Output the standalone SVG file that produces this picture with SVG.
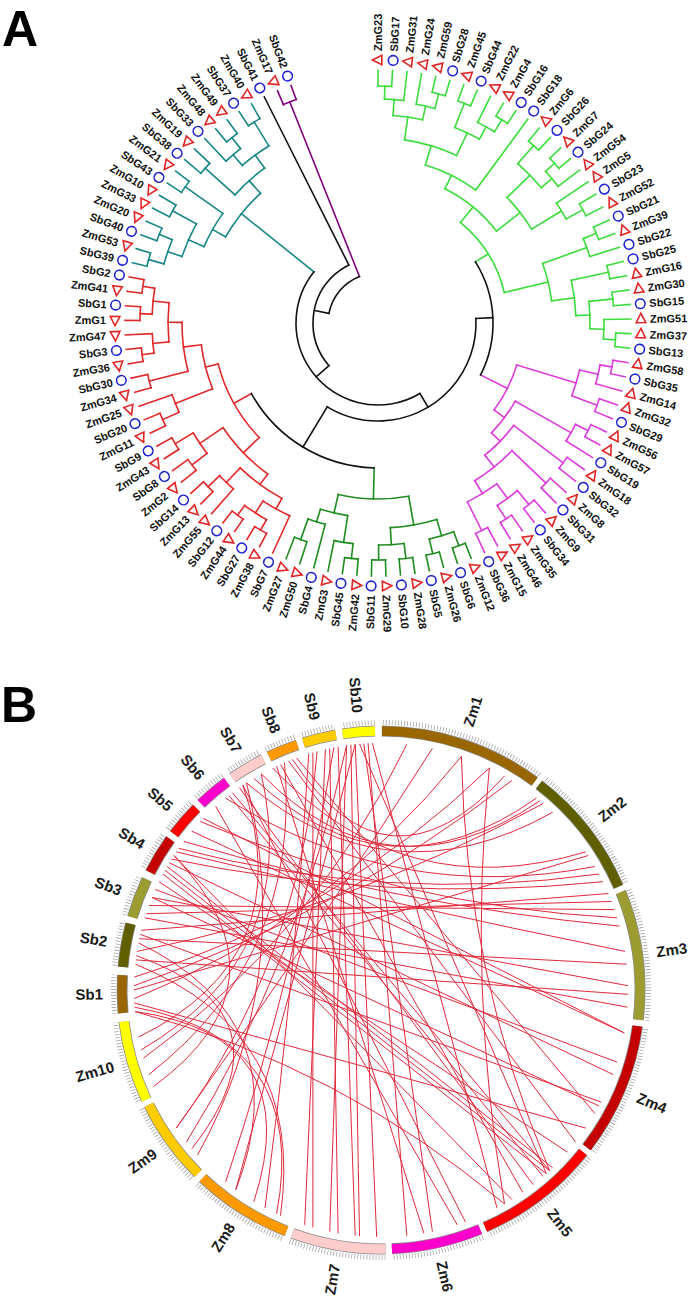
<svg xmlns="http://www.w3.org/2000/svg" xmlns:xlink="http://www.w3.org/1999/xlink" width="694" height="1298" viewBox="0 0 694 1298">
<style>
.br path,.br circle{fill:none;stroke-width:1.6;stroke-linecap:square}
.g1{stroke:#3cdc3c}.m1{stroke:#dc3cdc}.d1{stroke:#1f8c1f}.r1{stroke:#e02828}.t1{stroke:#178585}.p1{stroke:#800080}.k1{stroke:#111}
.lv text{font-family:"Liberation Sans",Arial,sans-serif;font-weight:bold;font-size:11px;fill:#111}
.lv .l{text-anchor:end}
.cl{font-family:"Liberation Sans",Arial,sans-serif;font-weight:bold;font-size:15px;fill:#1a1a1a}
.lk path{fill:none;stroke:#e2293c;stroke-width:1}
.big{font-family:"Liberation Sans",Arial,sans-serif;font-weight:bold;font-size:50px;fill:#000}
</style>
<defs>
<circle id="s" cx="263" r="4.8" fill="none" stroke="#1e22d0" stroke-width="1.6"/>
<polygon id="z" points="263,-5.6 258.2,3.8 267.8,3.8" fill="none" stroke="#e32424" stroke-width="1.6"/>
<circle id="bSb1" r="259" fill="none" pathLength="360" transform="rotate(174.9)" stroke-dasharray="8.4 999"/>
<circle id="bSb2" r="259" fill="none" pathLength="360" transform="rotate(185.1)" stroke-dasharray="9.7 999"/>
<circle id="bSb3" r="259" fill="none" pathLength="360" transform="rotate(196.3)" stroke-dasharray="9 999"/>
<circle id="bSb4" r="259" fill="none" pathLength="360" transform="rotate(207)" stroke-dasharray="8.6 999"/>
<circle id="bSb5" r="259" fill="none" pathLength="360" transform="rotate(217)" stroke-dasharray="7.6 999"/>
<circle id="bSb6" r="259" fill="none" pathLength="360" transform="rotate(226)" stroke-dasharray="7.5 999"/>
<circle id="bSb7" r="259" fill="none" pathLength="360" transform="rotate(235)" stroke-dasharray="8 999"/>
<circle id="bSb8" r="259" fill="none" pathLength="360" transform="rotate(244.4)" stroke-dasharray="6.8 999"/>
<circle id="bSb9" r="259" fill="none" pathLength="360" transform="rotate(252.6)" stroke-dasharray="7.4 999"/>
<circle id="bSb10" r="259" fill="none" pathLength="360" transform="rotate(261.5)" stroke-dasharray="7.2 999"/>
<circle id="bZm1" r="259" fill="none" pathLength="360" transform="rotate(-89.8)" stroke-dasharray="36.2 999"/>
<circle id="bZm2" r="259" fill="none" pathLength="360" transform="rotate(-52.4)" stroke-dasharray="28.9 999"/>
<circle id="bZm3" r="259" fill="none" pathLength="360" transform="rotate(-22.2)" stroke-dasharray="28.8 999"/>
<circle id="bZm4" r="259" fill="none" pathLength="360" transform="rotate(8)" stroke-dasharray="29.4 999"/>
<circle id="bZm5" r="259" fill="none" pathLength="360" transform="rotate(38.7)" stroke-dasharray="27.6 999"/>
<circle id="bZm6" r="259" fill="none" pathLength="360" transform="rotate(67.5)" stroke-dasharray="20.1 999"/>
<circle id="bZm7" r="259" fill="none" pathLength="360" transform="rotate(89)" stroke-dasharray="21 999"/>
<circle id="bZm8" r="259" fill="none" pathLength="360" transform="rotate(111.4)" stroke-dasharray="22.1 999"/>
<circle id="bZm9" r="259" fill="none" pathLength="360" transform="rotate(134.9)" stroke-dasharray="18.8 999"/>
<circle id="bZm10" r="259" fill="none" pathLength="360" transform="rotate(155)" stroke-dasharray="18 999"/>
<mask id="tkm" maskUnits="userSpaceOnUse" x="-320" y="-320" width="640" height="640">
<g stroke="#fff" stroke-width="30">
<use href="#bSb1"/><use href="#bSb2"/><use href="#bSb3"/><use href="#bSb4"/><use href="#bSb5"/><use href="#bSb6"/><use href="#bSb7"/><use href="#bSb8"/><use href="#bSb9"/><use href="#bSb10"/>
<use href="#bZm1"/><use href="#bZm2"/><use href="#bZm3"/><use href="#bZm4"/><use href="#bZm5"/><use href="#bZm6"/><use href="#bZm7"/><use href="#bZm8"/><use href="#bZm9"/><use href="#bZm10"/>
</g>
</mask>
</defs>
<rect width="694" height="1298" fill="#fff"/>
<text class="big" x="2" y="46">A</text>
<text class="big" x="1" y="722">B</text>

<g id="tree-branches" class="br" transform="translate(378,323)">
<g id="clade-lightgreen" class="g1">
<path transform="rotate(-90)" d="M237 0H253"/><path transform="rotate(-86.7)" d="M237 0H253"/><path transform="rotate(-83.4)" d="M224 0H253"/><path transform="rotate(-80.1)" d="M222 0H253"/><path transform="rotate(-76.8)" d="M237 0H253"/><path transform="rotate(-73.5)" d="M237 0H253"/><path transform="rotate(-70.2)" d="M236 0H253"/><path transform="rotate(-66.9)" d="M236 0H253"/><path transform="rotate(-63.6)" d="M224 0H253"/><path transform="rotate(-60.3)" d="M238 0H253"/><path transform="rotate(-57)" d="M238 0H253"/><path transform="rotate(-53.7)" d="M165 0H253"/><path transform="rotate(-50.4)" d="M236 0H253"/><path transform="rotate(-47.1)" d="M236 0H253"/><path transform="rotate(-43.8)" d="M238 0H253"/><path transform="rotate(-40.5)" d="M238 0H253"/><path transform="rotate(-37.2)" d="M226 0H253"/><path transform="rotate(-33.9)" d="M215 0H253"/><path transform="rotate(-30.6)" d="M234 0H253"/><path transform="rotate(-27.3)" d="M234 0H253"/><path transform="rotate(-24)" d="M236 0H253"/><path transform="rotate(-20.7)" d="M236 0H253"/><path transform="rotate(-17.4)" d="M222 0H253"/><path transform="rotate(-14.1)" d="M236 0H253"/><path transform="rotate(-10.8)" d="M236 0H253"/><path transform="rotate(-7.5)" d="M236 0H253"/><path transform="rotate(-4.2)" d="M236 0H253"/><path transform="rotate(-0.9)" d="M226 0H253"/><path transform="rotate(2.4)" d="M238 0H253"/><path transform="rotate(5.7)" d="M238 0H253"/>
<path transform="rotate(-88.35)" d="M224 0H237"/><path transform="rotate(-85.875)" d="M208 0H224"/><path transform="rotate(-75.15)" d="M222 0H237"/><path transform="rotate(-77.625)" d="M208 0H222"/><path transform="rotate(-81.75)" d="M185 0H208"/><path transform="rotate(-68.55)" d="M210 0H236"/><path transform="rotate(-58.65)" d="M224 0H238"/><path transform="rotate(-61.125)" d="M210 0H224"/><path transform="rotate(-64.84)" d="M185 0H210"/><path transform="rotate(-73.29)" d="M165 0H185"/><path transform="rotate(-63.5)" d="M150 0H165"/><path transform="rotate(-48.75)" d="M212 0H236"/><path transform="rotate(-42.15)" d="M226 0H238"/><path transform="rotate(-39.675)" d="M212 0H226"/><path transform="rotate(-44.21)" d="M180 0H212"/><path transform="rotate(-28.95)" d="M215 0H234"/><path transform="rotate(-31.425)" d="M180 0H215"/><path transform="rotate(-37.82)" d="M150 0H180"/><path transform="rotate(-50.66)" d="M130 0H150"/><path transform="rotate(-22.35)" d="M222 0H236"/><path transform="rotate(-19.875)" d="M175 0H222"/><path transform="rotate(-12.45)" d="M198 0H236"/><path transform="rotate(-5.85)" d="M212 0H236"/><path transform="rotate(4.05)" d="M226 0H238"/><path transform="rotate(1.575)" d="M212 0H226"/><path transform="rotate(-2.14)" d="M198 0H212"/><path transform="rotate(-7.29)" d="M175 0H198"/><path transform="rotate(-13.58)" d="M130 0H175"/><path transform="rotate(-32.12)" d="M115 0H130"/>
<circle r="237" pathLength="360" transform="rotate(-90)" stroke-dasharray="3.3 999"/><circle r="224" pathLength="360" transform="rotate(-88.35)" stroke-dasharray="4.95 999"/><circle r="237" pathLength="360" transform="rotate(-76.8)" stroke-dasharray="3.3 999"/><circle r="222" pathLength="360" transform="rotate(-80.1)" stroke-dasharray="4.95 999"/><circle r="208" pathLength="360" transform="rotate(-85.875)" stroke-dasharray="8.25 999"/><circle r="236" pathLength="360" transform="rotate(-70.2)" stroke-dasharray="3.3 999"/><circle r="238" pathLength="360" transform="rotate(-60.3)" stroke-dasharray="3.3 999"/><circle r="224" pathLength="360" transform="rotate(-63.6)" stroke-dasharray="4.95 999"/><circle r="210" pathLength="360" transform="rotate(-68.55)" stroke-dasharray="7.425 999"/><circle r="185" pathLength="360" transform="rotate(-81.75)" stroke-dasharray="16.91 999"/><circle r="165" pathLength="360" transform="rotate(-73.29)" stroke-dasharray="19.59 999"/><circle r="236" pathLength="360" transform="rotate(-50.4)" stroke-dasharray="3.3 999"/><circle r="238" pathLength="360" transform="rotate(-43.8)" stroke-dasharray="3.3 999"/><circle r="226" pathLength="360" transform="rotate(-42.15)" stroke-dasharray="4.95 999"/><circle r="212" pathLength="360" transform="rotate(-48.75)" stroke-dasharray="9.075 999"/><circle r="234" pathLength="360" transform="rotate(-30.6)" stroke-dasharray="3.3 999"/><circle r="215" pathLength="360" transform="rotate(-33.9)" stroke-dasharray="4.95 999"/><circle r="180" pathLength="360" transform="rotate(-44.21)" stroke-dasharray="12.785 999"/><circle r="150" pathLength="360" transform="rotate(-63.5)" stroke-dasharray="25.68 999"/><circle r="236" pathLength="360" transform="rotate(-24)" stroke-dasharray="3.3 999"/><circle r="222" pathLength="360" transform="rotate(-22.35)" stroke-dasharray="4.95 999"/><circle r="236" pathLength="360" transform="rotate(-14.1)" stroke-dasharray="3.3 999"/><circle r="236" pathLength="360" transform="rotate(-7.5)" stroke-dasharray="3.3 999"/><circle r="238" pathLength="360" transform="rotate(2.4)" stroke-dasharray="3.3 999"/><circle r="226" pathLength="360" transform="rotate(-0.9)" stroke-dasharray="4.95 999"/><circle r="212" pathLength="360" transform="rotate(-5.85)" stroke-dasharray="7.425 999"/><circle r="198" pathLength="360" transform="rotate(-12.45)" stroke-dasharray="10.31 999"/><circle r="175" pathLength="360" transform="rotate(-19.875)" stroke-dasharray="12.585 999"/><circle r="130" pathLength="360" transform="rotate(-50.66)" stroke-dasharray="37.08 999"/>
</g>
<g id="clade-magenta" class="m1">
<path transform="rotate(9)" d="M238 0H253"/><path transform="rotate(12.3)" d="M238 0H253"/><path transform="rotate(15.6)" d="M226 0H253"/><path transform="rotate(18.9)" d="M234 0H253"/><path transform="rotate(22.2)" d="M234 0H253"/><path transform="rotate(25.5)" d="M236 0H253"/><path transform="rotate(28.8)" d="M236 0H253"/><path transform="rotate(32.1)" d="M222 0H253"/><path transform="rotate(35.4)" d="M232 0H253"/><path transform="rotate(38.7)" d="M232 0H253"/><path transform="rotate(42)" d="M232 0H253"/><path transform="rotate(45.3)" d="M232 0H253"/><path transform="rotate(48.6)" d="M236 0H253"/><path transform="rotate(51.9)" d="M236 0H253"/><path transform="rotate(55.2)" d="M234 0H253"/><path transform="rotate(58.5)" d="M234 0H253"/><path transform="rotate(61.8)" d="M232 0H253"/><path transform="rotate(65.1)" d="M232 0H253"/>
<path transform="rotate(10.65)" d="M226 0H238"/><path transform="rotate(13.125)" d="M207 0H226"/><path transform="rotate(20.55)" d="M207 0H234"/><path transform="rotate(16.84)" d="M145 0H207"/><path transform="rotate(27.15)" d="M222 0H236"/><path transform="rotate(29.625)" d="M158 0H222"/><path transform="rotate(37.05)" d="M170 0H232"/><path transform="rotate(43.65)" d="M185 0H232"/><path transform="rotate(50.25)" d="M218 0H236"/><path transform="rotate(56.85)" d="M218 0H234"/><path transform="rotate(53.55)" d="M200 0H218"/><path transform="rotate(63.45)" d="M200 0H232"/><path transform="rotate(58.5)" d="M185 0H200"/><path transform="rotate(51.075)" d="M170 0H185"/><path transform="rotate(44.06)" d="M158 0H170"/><path transform="rotate(36.84)" d="M145 0H158"/><path transform="rotate(26.84)" d="M115 0H145"/>
<circle r="238" pathLength="360" transform="rotate(9)" stroke-dasharray="3.3 999"/><circle r="226" pathLength="360" transform="rotate(10.65)" stroke-dasharray="4.95 999"/><circle r="234" pathLength="360" transform="rotate(18.9)" stroke-dasharray="3.3 999"/><circle r="207" pathLength="360" transform="rotate(13.125)" stroke-dasharray="7.425 999"/><circle r="236" pathLength="360" transform="rotate(25.5)" stroke-dasharray="3.3 999"/><circle r="222" pathLength="360" transform="rotate(27.15)" stroke-dasharray="4.95 999"/><circle r="232" pathLength="360" transform="rotate(35.4)" stroke-dasharray="3.3 999"/><circle r="232" pathLength="360" transform="rotate(42)" stroke-dasharray="3.3 999"/><circle r="236" pathLength="360" transform="rotate(48.6)" stroke-dasharray="3.3 999"/><circle r="234" pathLength="360" transform="rotate(55.2)" stroke-dasharray="3.3 999"/><circle r="218" pathLength="360" transform="rotate(50.25)" stroke-dasharray="6.6 999"/><circle r="232" pathLength="360" transform="rotate(61.8)" stroke-dasharray="3.3 999"/><circle r="200" pathLength="360" transform="rotate(53.55)" stroke-dasharray="9.9 999"/><circle r="185" pathLength="360" transform="rotate(43.65)" stroke-dasharray="14.85 999"/><circle r="170" pathLength="360" transform="rotate(37.05)" stroke-dasharray="14.025 999"/><circle r="158" pathLength="360" transform="rotate(29.625)" stroke-dasharray="14.435 999"/><circle r="145" pathLength="360" transform="rotate(16.84)" stroke-dasharray="20 999"/>
</g>
<g id="clade-darkgreen" class="d1">
<path transform="rotate(68.4)" d="M237 0H253"/><path transform="rotate(71.7)" d="M237 0H253"/><path transform="rotate(75)" d="M237 0H253"/><path transform="rotate(78.3)" d="M237 0H253"/><path transform="rotate(81.6)" d="M237 0H253"/><path transform="rotate(84.9)" d="M237 0H253"/><path transform="rotate(88.2)" d="M237 0H253"/><path transform="rotate(91.5)" d="M237 0H253"/><path transform="rotate(94.8)" d="M237 0H253"/><path transform="rotate(98.1)" d="M237 0H253"/><path transform="rotate(101.4)" d="M222 0H253"/><path transform="rotate(104.7)" d="M208 0H253"/><path transform="rotate(108)" d="M230 0H253"/><path transform="rotate(111.3)" d="M230 0H253"/>
<path transform="rotate(70.05)" d="M222 0H237"/><path transform="rotate(76.65)" d="M222 0H237"/><path transform="rotate(73.35)" d="M205 0H222"/><path transform="rotate(83.25)" d="M222 0H237"/><path transform="rotate(89.85)" d="M222 0H237"/><path transform="rotate(86.55)" d="M205 0H222"/><path transform="rotate(79.95)" d="M176 0H205"/><path transform="rotate(96.45)" d="M222 0H237"/><path transform="rotate(98.925)" d="M195 0H222"/><path transform="rotate(109.65)" d="M208 0H230"/><path transform="rotate(107.175)" d="M195 0H208"/><path transform="rotate(103.05)" d="M176 0H195"/><path transform="rotate(91.5)" d="M145 0H176"/>
<circle r="237" pathLength="360" transform="rotate(68.4)" stroke-dasharray="3.3 999"/><circle r="237" pathLength="360" transform="rotate(75)" stroke-dasharray="3.3 999"/><circle r="222" pathLength="360" transform="rotate(70.05)" stroke-dasharray="6.6 999"/><circle r="237" pathLength="360" transform="rotate(81.6)" stroke-dasharray="3.3 999"/><circle r="237" pathLength="360" transform="rotate(88.2)" stroke-dasharray="3.3 999"/><circle r="222" pathLength="360" transform="rotate(83.25)" stroke-dasharray="6.6 999"/><circle r="205" pathLength="360" transform="rotate(73.35)" stroke-dasharray="13.2 999"/><circle r="237" pathLength="360" transform="rotate(94.8)" stroke-dasharray="3.3 999"/><circle r="222" pathLength="360" transform="rotate(96.45)" stroke-dasharray="4.95 999"/><circle r="230" pathLength="360" transform="rotate(108)" stroke-dasharray="3.3 999"/><circle r="208" pathLength="360" transform="rotate(104.7)" stroke-dasharray="4.95 999"/><circle r="195" pathLength="360" transform="rotate(98.925)" stroke-dasharray="8.25 999"/><circle r="176" pathLength="360" transform="rotate(79.95)" stroke-dasharray="23.1 999"/>
</g>
<g id="clade-red" class="r1">
<path transform="rotate(114.6)" d="M212 0H253"/><path transform="rotate(117.9)" d="M238 0H253"/><path transform="rotate(121.2)" d="M238 0H253"/><path transform="rotate(124.5)" d="M238 0H253"/><path transform="rotate(127.8)" d="M238 0H253"/><path transform="rotate(131.1)" d="M220 0H253"/><path transform="rotate(134.4)" d="M236 0H253"/><path transform="rotate(137.7)" d="M236 0H253"/><path transform="rotate(141)" d="M234 0H253"/><path transform="rotate(144.3)" d="M234 0H253"/><path transform="rotate(147.6)" d="M236 0H253"/><path transform="rotate(150.9)" d="M236 0H253"/><path transform="rotate(154.2)" d="M236 0H253"/><path transform="rotate(157.5)" d="M236 0H253"/><path transform="rotate(160.8)" d="M218 0H253"/><path transform="rotate(164.1)" d="M236 0H253"/><path transform="rotate(167.4)" d="M236 0H253"/><path transform="rotate(170.7)" d="M238 0H253"/><path transform="rotate(174)" d="M238 0H253"/><path transform="rotate(177.3)" d="M226 0H253"/><path transform="rotate(180.6)" d="M238 0H253"/><path transform="rotate(183.9)" d="M238 0H253"/><path transform="rotate(187.2)" d="M238 0H253"/><path transform="rotate(190.5)" d="M238 0H253"/>
<path transform="rotate(119.55)" d="M226 0H238"/><path transform="rotate(126.15)" d="M226 0H238"/><path transform="rotate(122.85)" d="M212 0H226"/><path transform="rotate(118.725)" d="M200 0H212"/><path transform="rotate(136.05)" d="M220 0H236"/><path transform="rotate(133.575)" d="M200 0H220"/><path transform="rotate(126.15)" d="M187 0H200"/><path transform="rotate(142.65)" d="M215 0H234"/><path transform="rotate(149.25)" d="M215 0H236"/><path transform="rotate(145.95)" d="M187 0H215"/><path transform="rotate(136.05)" d="M165 0H187"/><path transform="rotate(155.85)" d="M218 0H236"/><path transform="rotate(158.325)" d="M178 0H218"/><path transform="rotate(165.75)" d="M196 0H236"/><path transform="rotate(172.35)" d="M226 0H238"/><path transform="rotate(174.825)" d="M210 0H226"/><path transform="rotate(182.25)" d="M226 0H238"/><path transform="rotate(188.85)" d="M226 0H238"/><path transform="rotate(185.55)" d="M210 0H226"/><path transform="rotate(180.19)" d="M196 0H210"/><path transform="rotate(172.97)" d="M178 0H196"/><path transform="rotate(165.65)" d="M165 0H178"/><path transform="rotate(150.85)" d="M145 0H165"/>
<circle r="238" pathLength="360" transform="rotate(117.9)" stroke-dasharray="3.3 999"/><circle r="238" pathLength="360" transform="rotate(124.5)" stroke-dasharray="3.3 999"/><circle r="226" pathLength="360" transform="rotate(119.55)" stroke-dasharray="6.6 999"/><circle r="212" pathLength="360" transform="rotate(114.6)" stroke-dasharray="8.25 999"/><circle r="236" pathLength="360" transform="rotate(134.4)" stroke-dasharray="3.3 999"/><circle r="220" pathLength="360" transform="rotate(131.1)" stroke-dasharray="4.95 999"/><circle r="200" pathLength="360" transform="rotate(118.725)" stroke-dasharray="14.85 999"/><circle r="234" pathLength="360" transform="rotate(141)" stroke-dasharray="3.3 999"/><circle r="236" pathLength="360" transform="rotate(147.6)" stroke-dasharray="3.3 999"/><circle r="215" pathLength="360" transform="rotate(142.65)" stroke-dasharray="6.6 999"/><circle r="187" pathLength="360" transform="rotate(126.15)" stroke-dasharray="19.8 999"/><circle r="236" pathLength="360" transform="rotate(154.2)" stroke-dasharray="3.3 999"/><circle r="218" pathLength="360" transform="rotate(155.85)" stroke-dasharray="4.95 999"/><circle r="236" pathLength="360" transform="rotate(164.1)" stroke-dasharray="3.3 999"/><circle r="238" pathLength="360" transform="rotate(170.7)" stroke-dasharray="3.3 999"/><circle r="226" pathLength="360" transform="rotate(172.35)" stroke-dasharray="4.95 999"/><circle r="238" pathLength="360" transform="rotate(180.6)" stroke-dasharray="3.3 999"/><circle r="238" pathLength="360" transform="rotate(187.2)" stroke-dasharray="3.3 999"/><circle r="226" pathLength="360" transform="rotate(182.25)" stroke-dasharray="6.6 999"/><circle r="210" pathLength="360" transform="rotate(174.825)" stroke-dasharray="10.725 999"/><circle r="196" pathLength="360" transform="rotate(165.75)" stroke-dasharray="14.44 999"/><circle r="178" pathLength="360" transform="rotate(158.325)" stroke-dasharray="14.645 999"/><circle r="165" pathLength="360" transform="rotate(136.05)" stroke-dasharray="29.6 999"/>
</g>
<g id="clade-teal" class="t1">
<path transform="rotate(193.8)" d="M238 0H253"/><path transform="rotate(197.1)" d="M238 0H253"/><path transform="rotate(200.4)" d="M236 0H253"/><path transform="rotate(203.7)" d="M236 0H253"/><path transform="rotate(207)" d="M234 0H253"/><path transform="rotate(210.3)" d="M234 0H253"/><path transform="rotate(213.6)" d="M236 0H253"/><path transform="rotate(216.9)" d="M236 0H253"/><path transform="rotate(220.2)" d="M232 0H253"/><path transform="rotate(223.5)" d="M232 0H253"/><path transform="rotate(226.8)" d="M222 0H253"/><path transform="rotate(230.1)" d="M236 0H253"/><path transform="rotate(233.4)" d="M236 0H253"/><path transform="rotate(236.7)" d="M236 0H253"/><path transform="rotate(240)" d="M236 0H253"/>
<path transform="rotate(195.45)" d="M222 0H238"/><path transform="rotate(202.05)" d="M222 0H236"/><path transform="rotate(198.75)" d="M207 0H222"/><path transform="rotate(208.65)" d="M207 0H234"/><path transform="rotate(203.7)" d="M190 0H207"/><path transform="rotate(215.25)" d="M190 0H236"/><path transform="rotate(209.475)" d="M175 0H190"/><path transform="rotate(221.85)" d="M192 0H232"/><path transform="rotate(231.75)" d="M222 0H236"/><path transform="rotate(229.275)" d="M208 0H222"/><path transform="rotate(238.35)" d="M208 0H236"/><path transform="rotate(233.81)" d="M192 0H208"/><path transform="rotate(227.83)" d="M175 0H192"/><path transform="rotate(218.65)" d="M82 0H175"/>
<circle r="238" pathLength="360" transform="rotate(193.8)" stroke-dasharray="3.3 999"/><circle r="236" pathLength="360" transform="rotate(200.4)" stroke-dasharray="3.3 999"/><circle r="222" pathLength="360" transform="rotate(195.45)" stroke-dasharray="6.6 999"/><circle r="234" pathLength="360" transform="rotate(207)" stroke-dasharray="3.3 999"/><circle r="207" pathLength="360" transform="rotate(198.75)" stroke-dasharray="9.9 999"/><circle r="236" pathLength="360" transform="rotate(213.6)" stroke-dasharray="3.3 999"/><circle r="190" pathLength="360" transform="rotate(203.7)" stroke-dasharray="11.55 999"/><circle r="232" pathLength="360" transform="rotate(220.2)" stroke-dasharray="3.3 999"/><circle r="236" pathLength="360" transform="rotate(230.1)" stroke-dasharray="3.3 999"/><circle r="222" pathLength="360" transform="rotate(226.8)" stroke-dasharray="4.95 999"/><circle r="236" pathLength="360" transform="rotate(236.7)" stroke-dasharray="3.3 999"/><circle r="208" pathLength="360" transform="rotate(229.275)" stroke-dasharray="9.075 999"/><circle r="192" pathLength="360" transform="rotate(221.85)" stroke-dasharray="11.96 999"/><circle r="175" pathLength="360" transform="rotate(209.475)" stroke-dasharray="18.355 999"/>
</g>
<g id="clade-purple" class="p1">
<path transform="rotate(246.6)" d="M238 0H253"/><path transform="rotate(249.9)" d="M238 0H253"/><path transform="rotate(248.25)" d="M50 0H238"/>
<circle r="238" pathLength="360" transform="rotate(246.6)" stroke-dasharray="3.3 999"/>
</g>
<g id="backbone" class="k1">
<path transform="rotate(243.3)" d="M65 0H253"/>
<path transform="rotate(-2.64)" d="M98 0H115"/><path transform="rotate(121.175)" d="M98 0H145"/><path transform="rotate(59.27)" d="M82 0H98"/><path transform="rotate(138.96)" d="M65 0H82"/><path transform="rotate(191.13)" d="M50 0H65"/>
<circle r="115" pathLength="360" transform="rotate(-32.12)" stroke-dasharray="58.96 999"/><circle r="145" pathLength="360" transform="rotate(91.5)" stroke-dasharray="59.35 999"/><circle r="98" pathLength="360" transform="rotate(-2.64)" stroke-dasharray="123.815 999"/><circle r="82" pathLength="360" transform="rotate(59.27)" stroke-dasharray="159.38 999"/><circle r="65" pathLength="360" transform="rotate(138.96)" stroke-dasharray="104.34 999"/><circle r="50" pathLength="360" transform="rotate(191.13)" stroke-dasharray="57.12 999"/>
</g>
</g>

<g id="tree-leaves" class="lv" transform="translate(378,323)">
<g id="leaf-ZmG23" transform="rotate(-90)"><use href="#z"/><text x="272" y="4">ZmG23</text></g>
<g id="leaf-SbG17" transform="rotate(-86.7)"><use href="#s"/><text x="272" y="4">SbG17</text></g>
<g id="leaf-ZmG31" transform="rotate(-83.4)"><use href="#z"/><text x="272" y="4">ZmG31</text></g>
<g id="leaf-ZmG24" transform="rotate(-80.1)"><use href="#z"/><text x="272" y="4">ZmG24</text></g>
<g id="leaf-ZmG59" transform="rotate(-76.8)"><use href="#z"/><text x="272" y="4">ZmG59</text></g>
<g id="leaf-SbG28" transform="rotate(-73.5)"><use href="#s"/><text x="272" y="4">SbG28</text></g>
<g id="leaf-ZmG45" transform="rotate(-70.2)"><use href="#z"/><text x="272" y="4">ZmG45</text></g>
<g id="leaf-SbG44" transform="rotate(-66.9)"><use href="#s"/><text x="272" y="4">SbG44</text></g>
<g id="leaf-ZmG22" transform="rotate(-63.6)"><use href="#z"/><text x="272" y="4">ZmG22</text></g>
<g id="leaf-ZmG4" transform="rotate(-60.3)"><use href="#z"/><text x="272" y="4">ZmG4</text></g>
<g id="leaf-SbG16" transform="rotate(-57)"><use href="#s"/><text x="272" y="4">SbG16</text></g>
<g id="leaf-SbG18" transform="rotate(-53.7)"><use href="#s"/><text x="272" y="4">SbG18</text></g>
<g id="leaf-ZmG6" transform="rotate(-50.4)"><use href="#z"/><text x="272" y="4">ZmG6</text></g>
<g id="leaf-SbG26" transform="rotate(-47.1)"><use href="#s"/><text x="272" y="4">SbG26</text></g>
<g id="leaf-ZmG7" transform="rotate(-43.8)"><use href="#z"/><text x="272" y="4">ZmG7</text></g>
<g id="leaf-SbG24" transform="rotate(-40.5)"><use href="#s"/><text x="272" y="4">SbG24</text></g>
<g id="leaf-ZmG54" transform="rotate(-37.2)"><use href="#z"/><text x="272" y="4">ZmG54</text></g>
<g id="leaf-ZmG5" transform="rotate(-33.9)"><use href="#z"/><text x="272" y="4">ZmG5</text></g>
<g id="leaf-SbG23" transform="rotate(-30.6)"><use href="#s"/><text x="272" y="4">SbG23</text></g>
<g id="leaf-ZmG52" transform="rotate(-27.3)"><use href="#z"/><text x="272" y="4">ZmG52</text></g>
<g id="leaf-SbG21" transform="rotate(-24)"><use href="#s"/><text x="272" y="4">SbG21</text></g>
<g id="leaf-ZmG39" transform="rotate(-20.7)"><use href="#z"/><text x="272" y="4">ZmG39</text></g>
<g id="leaf-SbG22" transform="rotate(-17.4)"><use href="#s"/><text x="272" y="4">SbG22</text></g>
<g id="leaf-SbG25" transform="rotate(-14.1)"><use href="#s"/><text x="272" y="4">SbG25</text></g>
<g id="leaf-ZmG16" transform="rotate(-10.8)"><use href="#z"/><text x="272" y="4">ZmG16</text></g>
<g id="leaf-ZmG30" transform="rotate(-7.5)"><use href="#z"/><text x="272" y="4">ZmG30</text></g>
<g id="leaf-SbG15" transform="rotate(-4.2)"><use href="#s"/><text x="272" y="4">SbG15</text></g>
<g id="leaf-ZmG51" transform="rotate(-0.9)"><use href="#z"/><text x="272" y="4">ZmG51</text></g>
<g id="leaf-ZmG37" transform="rotate(2.4)"><use href="#z"/><text x="272" y="4">ZmG37</text></g>
<g id="leaf-SbG13" transform="rotate(5.7)"><use href="#s"/><text x="272" y="4">SbG13</text></g>
<g id="leaf-ZmG58" transform="rotate(9)"><use href="#z"/><text x="272" y="4">ZmG58</text></g>
<g id="leaf-SbG35" transform="rotate(12.3)"><use href="#s"/><text x="272" y="4">SbG35</text></g>
<g id="leaf-ZmG14" transform="rotate(15.6)"><use href="#z"/><text x="272" y="4">ZmG14</text></g>
<g id="leaf-ZmG32" transform="rotate(18.9)"><use href="#z"/><text x="272" y="4">ZmG32</text></g>
<g id="leaf-SbG29" transform="rotate(22.2)"><use href="#s"/><text x="272" y="4">SbG29</text></g>
<g id="leaf-ZmG56" transform="rotate(25.5)"><use href="#z"/><text x="272" y="4">ZmG56</text></g>
<g id="leaf-ZmG57" transform="rotate(28.8)"><use href="#z"/><text x="272" y="4">ZmG57</text></g>
<g id="leaf-SbG19" transform="rotate(32.1)"><use href="#s"/><text x="272" y="4">SbG19</text></g>
<g id="leaf-ZmG18" transform="rotate(35.4)"><use href="#z"/><text x="272" y="4">ZmG18</text></g>
<g id="leaf-SbG32" transform="rotate(38.7)"><use href="#s"/><text x="272" y="4">SbG32</text></g>
<g id="leaf-ZmG8" transform="rotate(42)"><use href="#z"/><text x="272" y="4">ZmG8</text></g>
<g id="leaf-SbG31" transform="rotate(45.3)"><use href="#s"/><text x="272" y="4">SbG31</text></g>
<g id="leaf-ZmG9" transform="rotate(48.6)"><use href="#z"/><text x="272" y="4">ZmG9</text></g>
<g id="leaf-SbG34" transform="rotate(51.9)"><use href="#s"/><text x="272" y="4">SbG34</text></g>
<g id="leaf-ZmG35" transform="rotate(55.2)"><use href="#z"/><text x="272" y="4">ZmG35</text></g>
<g id="leaf-ZmG46" transform="rotate(58.5)"><use href="#z"/><text x="272" y="4">ZmG46</text></g>
<g id="leaf-ZmG15" transform="rotate(61.8)"><use href="#z"/><text x="272" y="4">ZmG15</text></g>
<g id="leaf-SbG36" transform="rotate(65.1)"><use href="#s"/><text x="272" y="4">SbG36</text></g>
<g id="leaf-ZmG12" transform="rotate(68.4)"><use href="#z"/><text x="272" y="4">ZmG12</text></g>
<g id="leaf-SbG6" transform="rotate(71.7)"><use href="#s"/><text x="272" y="4">SbG6</text></g>
<g id="leaf-ZmG26" transform="rotate(75)"><use href="#z"/><text x="272" y="4">ZmG26</text></g>
<g id="leaf-SbG5" transform="rotate(78.3)"><use href="#s"/><text x="272" y="4">SbG5</text></g>
<g id="leaf-ZmG28" transform="rotate(81.6)"><use href="#z"/><text x="272" y="4">ZmG28</text></g>
<g id="leaf-SbG10" transform="rotate(84.9)"><use href="#s"/><text x="272" y="4">SbG10</text></g>
<g id="leaf-ZmG29" transform="rotate(88.2)"><use href="#z"/><text x="272" y="4">ZmG29</text></g>
<g id="leaf-SbG11" transform="rotate(91.5)"><use href="#s"/><text class="l" transform="rotate(180)" x="-272" y="4">SbG11</text></g>
<g id="leaf-ZmG42" transform="rotate(94.8)"><use href="#z"/><text class="l" transform="rotate(180)" x="-272" y="4">ZmG42</text></g>
<g id="leaf-SbG45" transform="rotate(98.1)"><use href="#s"/><text class="l" transform="rotate(180)" x="-272" y="4">SbG45</text></g>
<g id="leaf-ZmG3" transform="rotate(101.4)"><use href="#z"/><text class="l" transform="rotate(180)" x="-272" y="4">ZmG3</text></g>
<g id="leaf-SbG4" transform="rotate(104.7)"><use href="#s"/><text class="l" transform="rotate(180)" x="-272" y="4">SbG4</text></g>
<g id="leaf-ZmG50" transform="rotate(108)"><use href="#z"/><text class="l" transform="rotate(180)" x="-272" y="4">ZmG50</text></g>
<g id="leaf-ZmG27" transform="rotate(111.3)"><use href="#z"/><text class="l" transform="rotate(180)" x="-272" y="4">ZmG27</text></g>
<g id="leaf-SbG7" transform="rotate(114.6)"><use href="#s"/><text class="l" transform="rotate(180)" x="-272" y="4">SbG7</text></g>
<g id="leaf-ZmG38" transform="rotate(117.9)"><use href="#z"/><text class="l" transform="rotate(180)" x="-272" y="4">ZmG38</text></g>
<g id="leaf-SbG27" transform="rotate(121.2)"><use href="#s"/><text class="l" transform="rotate(180)" x="-272" y="4">SbG27</text></g>
<g id="leaf-ZmG44" transform="rotate(124.5)"><use href="#z"/><text class="l" transform="rotate(180)" x="-272" y="4">ZmG44</text></g>
<g id="leaf-SbG12" transform="rotate(127.8)"><use href="#s"/><text class="l" transform="rotate(180)" x="-272" y="4">SbG12</text></g>
<g id="leaf-ZmG55" transform="rotate(131.1)"><use href="#z"/><text class="l" transform="rotate(180)" x="-272" y="4">ZmG55</text></g>
<g id="leaf-ZmG13" transform="rotate(134.4)"><use href="#z"/><text class="l" transform="rotate(180)" x="-272" y="4">ZmG13</text></g>
<g id="leaf-SbG14" transform="rotate(137.7)"><use href="#s"/><text class="l" transform="rotate(180)" x="-272" y="4">SbG14</text></g>
<g id="leaf-ZmG2" transform="rotate(141)"><use href="#z"/><text class="l" transform="rotate(180)" x="-272" y="4">ZmG2</text></g>
<g id="leaf-SbG8" transform="rotate(144.3)"><use href="#s"/><text class="l" transform="rotate(180)" x="-272" y="4">SbG8</text></g>
<g id="leaf-ZmG43" transform="rotate(147.6)"><use href="#z"/><text class="l" transform="rotate(180)" x="-272" y="4">ZmG43</text></g>
<g id="leaf-SbG9" transform="rotate(150.9)"><use href="#s"/><text class="l" transform="rotate(180)" x="-272" y="4">SbG9</text></g>
<g id="leaf-ZmG11" transform="rotate(154.2)"><use href="#z"/><text class="l" transform="rotate(180)" x="-272" y="4">ZmG11</text></g>
<g id="leaf-SbG20" transform="rotate(157.5)"><use href="#s"/><text class="l" transform="rotate(180)" x="-272" y="4">SbG20</text></g>
<g id="leaf-ZmG25" transform="rotate(160.8)"><use href="#z"/><text class="l" transform="rotate(180)" x="-272" y="4">ZmG25</text></g>
<g id="leaf-ZmG34" transform="rotate(164.1)"><use href="#z"/><text class="l" transform="rotate(180)" x="-272" y="4">ZmG34</text></g>
<g id="leaf-SbG30" transform="rotate(167.4)"><use href="#s"/><text class="l" transform="rotate(180)" x="-272" y="4">SbG30</text></g>
<g id="leaf-ZmG36" transform="rotate(170.7)"><use href="#z"/><text class="l" transform="rotate(180)" x="-272" y="4">ZmG36</text></g>
<g id="leaf-SbG3" transform="rotate(174)"><use href="#s"/><text class="l" transform="rotate(180)" x="-272" y="4">SbG3</text></g>
<g id="leaf-ZmG47" transform="rotate(177.3)"><use href="#z"/><text class="l" transform="rotate(180)" x="-272" y="4">ZmG47</text></g>
<g id="leaf-ZmG1" transform="rotate(180.6)"><use href="#z"/><text class="l" transform="rotate(180)" x="-272" y="4">ZmG1</text></g>
<g id="leaf-SbG1" transform="rotate(183.9)"><use href="#s"/><text class="l" transform="rotate(180)" x="-272" y="4">SbG1</text></g>
<g id="leaf-ZmG41" transform="rotate(187.2)"><use href="#z"/><text class="l" transform="rotate(180)" x="-272" y="4">ZmG41</text></g>
<g id="leaf-SbG2" transform="rotate(190.5)"><use href="#s"/><text class="l" transform="rotate(180)" x="-272" y="4">SbG2</text></g>
<g id="leaf-SbG39" transform="rotate(193.8)"><use href="#s"/><text class="l" transform="rotate(180)" x="-272" y="4">SbG39</text></g>
<g id="leaf-ZmG53" transform="rotate(197.1)"><use href="#z"/><text class="l" transform="rotate(180)" x="-272" y="4">ZmG53</text></g>
<g id="leaf-SbG40" transform="rotate(200.4)"><use href="#s"/><text class="l" transform="rotate(180)" x="-272" y="4">SbG40</text></g>
<g id="leaf-ZmG20" transform="rotate(203.7)"><use href="#z"/><text class="l" transform="rotate(180)" x="-272" y="4">ZmG20</text></g>
<g id="leaf-ZmG33" transform="rotate(207)"><use href="#z"/><text class="l" transform="rotate(180)" x="-272" y="4">ZmG33</text></g>
<g id="leaf-ZmG10" transform="rotate(210.3)"><use href="#z"/><text class="l" transform="rotate(180)" x="-272" y="4">ZmG10</text></g>
<g id="leaf-SbG43" transform="rotate(213.6)"><use href="#s"/><text class="l" transform="rotate(180)" x="-272" y="4">SbG43</text></g>
<g id="leaf-ZmG21" transform="rotate(216.9)"><use href="#z"/><text class="l" transform="rotate(180)" x="-272" y="4">ZmG21</text></g>
<g id="leaf-SbG38" transform="rotate(220.2)"><use href="#s"/><text class="l" transform="rotate(180)" x="-272" y="4">SbG38</text></g>
<g id="leaf-ZmG19" transform="rotate(223.5)"><use href="#z"/><text class="l" transform="rotate(180)" x="-272" y="4">ZmG19</text></g>
<g id="leaf-SbG33" transform="rotate(226.8)"><use href="#s"/><text class="l" transform="rotate(180)" x="-272" y="4">SbG33</text></g>
<g id="leaf-ZmG48" transform="rotate(230.1)"><use href="#z"/><text class="l" transform="rotate(180)" x="-272" y="4">ZmG48</text></g>
<g id="leaf-ZmG49" transform="rotate(233.4)"><use href="#z"/><text class="l" transform="rotate(180)" x="-272" y="4">ZmG49</text></g>
<g id="leaf-SbG37" transform="rotate(236.7)"><use href="#s"/><text class="l" transform="rotate(180)" x="-272" y="4">SbG37</text></g>
<g id="leaf-ZmG40" transform="rotate(240)"><use href="#z"/><text class="l" transform="rotate(180)" x="-272" y="4">ZmG40</text></g>
<g id="leaf-SbG41" transform="rotate(243.3)"><use href="#s"/><text class="l" transform="rotate(180)" x="-272" y="4">SbG41</text></g>
<g id="leaf-ZmG17" transform="rotate(246.6)"><use href="#z"/><text class="l" transform="rotate(180)" x="-272" y="4">ZmG17</text></g>
<g id="leaf-SbG42" transform="rotate(249.9)"><use href="#s"/><text class="l" transform="rotate(180)" x="-272" y="4">SbG42</text></g>
</g>

<g id="links" class="lk">
<path d="M368.1 743.3L406.8 1235.7"/><path d="M363.8 743.6L432.4 1231.6"/><path d="M372.4 743.2L497 1208.1"/><path d="M359.5 743.9L546.3 1173.6"/><path d="M350.9 744.8L359.5 1236.1"/><path d="M329.7 748.4L338.1 1233.3"/><path d="M325.4 749.3L304.7 1224.9"/><path d="M338.1 746.8L355.2 1235.7"/><path d="M312.9 752.6L312.9 1227.4"/><path d="M296.5 757.9L594.9 1113.5"/><path d="M288.5 761L575.6 1142.1"/><path d="M280.5 764.4L522.7 1192.3"/>
<path d="M261.3 774Q389.3 903.9 539.8 800.8"/><path d="M253.8 778.3Q387 903.8 536.4 798.1"/><path d="M272.7 768Q403.4 906.5 585.8 851.9"/><path d="M246.5 782.9Q389.3 904 552.6 812.3"/>
<path d="M239.3 787.7L533.1 1184.6"/><path d="M232.4 792.7L549.5 1170.6"/><path d="M228.9 795.4L543.1 1176.4"/>
<path d="M225.6 798.1Q396.8 905 594.9 866.5"/>
<path d="M215.7 806.4L457.3 1224.9"/>
<path d="M200.4 821.6Q400.4 905.8 617.2 917.8"/><path d="M183.7 841.4Q397.5 905.1 619.6 926.1"/>
<path d="M191.8 831.2L624.3 1032.9"/>
<path d="M176.2 851.9Q399.7 905.6 625 951.4"/><path d="M171.5 859.1Q385.5 903.7 603 881.7"/>
<path d="M162.9 874L546.3 1173.6"/><path d="M165 870.3L549.5 1170.6"/><path d="M167.1 866.5L552.6 1167.7"/><path d="M169.3 862.8L613.1 1074.5"/><path d="M173.9 855.5L511.9 1199.5"/><path d="M155.4 889.5L617.2 1062.2"/><path d="M152 897.5L628 985.7"/><path d="M148.9 905.5L614.5 909.6"/><path d="M146.1 913.7L611.6 901.5"/><path d="M144.8 917.8L627.4 1007.2"/><path d="M141.3 930.3L608.4 893.5"/><path d="M140.3 934.4L601.1 1102.1"/><path d="M139.4 938.7L626.7 964.2"/>
<path d="M138.5 942.9Q300.6 1021.7 235.8 1189.8"/><path d="M137 951.4Q351.4 908.8 543.1 803.6"/><path d="M136.4 955.6Q297.9 1013.8 191.8 1148.8"/>
<path d="M135.8 959.9L628 994.3"/>
<path d="M135.4 964.2Q306.1 1033.3 280.5 1215.7"/><path d="M134.3 977.1Q337.1 915.5 489.3 768"/><path d="M134 985.7Q339.7 914 511.9 780.5"/>
<path d="M134 990L588.2 855.5"/>
<path d="M134.2 998.6Q329.6 920.5 461.4 756.5"/>
<path d="M134.3 1002.9L585.8 1128.1"/>
<path d="M134.6 1007.2Q309.8 1038.9 276.6 1213.9"/><path d="M135 1011.5Q341 1066.8 504.5 1203.9"/><path d="M135 1011.5Q307.7 1035.8 253.8 1201.7"/><path d="M138.5 1037.1Q301.1 956.9 242.9 785.2"/><path d="M143.6 1058.1Q314.8 934.4 406.8 744.4"/><path d="M141.3 1049.8Q301.8 955.5 261.3 774"/><path d="M148.9 1074.5Q301.6 955.5 284.5 762.6"/><path d="M153.6 1086.5Q295 982.5 173.9 855.5"/><path d="M176.2 1128.1Q300.1 959.8 317.1 751.4"/><path d="M186.4 1142.1Q300.8 957.6 346.6 745.4"/><path d="M197.4 1155.3Q295.3 978.7 246.5 782.9"/><path d="M225.6 1182Q297.1 969.1 333.9 747.5"/><path d="M235.8 1189.8Q297.5 967.6 355.2 744.4"/><path d="M265 1208.1Q295 981.7 308.8 753.8"/>
<path d="M329.7 1231.6L346.6 745.4"/><path d="M376.7 1237L355.2 744.4"/><path d="M423.9 1233.3L276.6 766.1"/><path d="M465.5 1222.1L242.9 785.2"/><path d="M567.4 1152.1L159 881.7"/><path d="M599.1 1106L152 897.5"/><path d="M624.3 1032.9L203.3 818.4"/>
<path d="M432.4 748.4Q309.4 941.7 176.2 1128.1"/><path d="M504.5 776.1Q387.8 903.8 292.5 759.4"/><path d="M599.1 874Q386.3 903.7 178.7 848.3"/><path d="M461.4 756.5Q465.6 972 549.5 1170.6"/><path d="M489.3 768Q467.5 987 504.5 1203.9"/>
</g>

<g id="circos" transform="translate(381,990)">
<circle r="267.5" fill="none" stroke="#9a9a9a" stroke-width="5" pathLength="360" stroke-dasharray="0.15 0.5" mask="url(#tkm)"/>
<g id="chr-Sb1"><use href="#bSb1" stroke="#8a8a8a" stroke-width="11"/><use href="#bSb1" stroke="#996600" stroke-width="9.4"/><text class="cl" transform="rotate(359.1)" x="-278" y="5" text-anchor="end">Sb1</text></g>
<g id="chr-Sb2"><use href="#bSb2" stroke="#8a8a8a" stroke-width="11"/><use href="#bSb2" stroke="#5f5f00" stroke-width="9.4"/><text class="cl" transform="rotate(9.95)" x="-278" y="5" text-anchor="end">Sb2</text></g>
<g id="chr-Sb3"><use href="#bSb3" stroke="#8a8a8a" stroke-width="11"/><use href="#bSb3" stroke="#9c9c30" stroke-width="9.4"/><text class="cl" transform="rotate(20.8)" x="-278" y="5" text-anchor="end">Sb3</text></g>
<g id="chr-Sb4"><use href="#bSb4" stroke="#8a8a8a" stroke-width="11"/><use href="#bSb4" stroke="#c40000" stroke-width="9.4"/><text class="cl" transform="rotate(31.3)" x="-278" y="5" text-anchor="end">Sb4</text></g>
<g id="chr-Sb5"><use href="#bSb5" stroke="#8a8a8a" stroke-width="11"/><use href="#bSb5" stroke="#ff0000" stroke-width="9.4"/><text class="cl" transform="rotate(40.8)" x="-278" y="5" text-anchor="end">Sb5</text></g>
<g id="chr-Sb6"><use href="#bSb6" stroke="#8a8a8a" stroke-width="11"/><use href="#bSb6" stroke="#ff00cc" stroke-width="9.4"/><text class="cl" transform="rotate(49.75)" x="-278" y="5" text-anchor="end">Sb6</text></g>
<g id="chr-Sb7"><use href="#bSb7" stroke="#8a8a8a" stroke-width="11"/><use href="#bSb7" stroke="#ffcccc" stroke-width="9.4"/><text class="cl" transform="rotate(59)" x="-278" y="5" text-anchor="end">Sb7</text></g>
<g id="chr-Sb8"><use href="#bSb8" stroke="#8a8a8a" stroke-width="11"/><use href="#bSb8" stroke="#ff9900" stroke-width="9.4"/><text class="cl" transform="rotate(67.8)" x="-278" y="5" text-anchor="end">Sb8</text></g>
<g id="chr-Sb9"><use href="#bSb9" stroke="#8a8a8a" stroke-width="11"/><use href="#bSb9" stroke="#ffcc00" stroke-width="9.4"/><text class="cl" transform="rotate(76.3)" x="-278" y="5" text-anchor="end">Sb9</text></g>
<g id="chr-Sb10"><use href="#bSb10" stroke="#8a8a8a" stroke-width="11"/><use href="#bSb10" stroke="#ffff00" stroke-width="9.4"/><text class="cl" transform="rotate(85.1)" x="-278" y="5" text-anchor="end">Sb10</text></g>
<g id="chr-Zm1"><use href="#bZm1" stroke="#8a8a8a" stroke-width="11"/><use href="#bZm1" stroke="#996600" stroke-width="9.4"/><text class="cl" transform="rotate(-71.7)" x="278" y="5">Zm1</text></g>
<g id="chr-Zm2"><use href="#bZm2" stroke="#8a8a8a" stroke-width="11"/><use href="#bZm2" stroke="#5f5f00" stroke-width="9.4"/><text class="cl" transform="rotate(-38)" x="278" y="5">Zm2</text></g>
<g id="chr-Zm3"><use href="#bZm3" stroke="#8a8a8a" stroke-width="11"/><use href="#bZm3" stroke="#9c9c30" stroke-width="9.4"/><text class="cl" transform="rotate(-7.8)" x="278" y="5">Zm3</text></g>
<g id="chr-Zm4"><use href="#bZm4" stroke="#8a8a8a" stroke-width="11"/><use href="#bZm4" stroke="#c40000" stroke-width="9.4"/><text class="cl" transform="rotate(22.7)" x="278" y="5">Zm4</text></g>
<g id="chr-Zm5"><use href="#bZm5" stroke="#8a8a8a" stroke-width="11"/><use href="#bZm5" stroke="#ff0000" stroke-width="9.4"/><text class="cl" transform="rotate(52.5)" x="278" y="5">Zm5</text></g>
<g id="chr-Zm6"><use href="#bZm6" stroke="#8a8a8a" stroke-width="11"/><use href="#bZm6" stroke="#ff00cc" stroke-width="9.4"/><text class="cl" transform="rotate(77.5)" x="278" y="5">Zm6</text></g>
<g id="chr-Zm7"><use href="#bZm7" stroke="#8a8a8a" stroke-width="11"/><use href="#bZm7" stroke="#ffcccc" stroke-width="9.4"/><text class="cl" transform="rotate(279.5)" x="-278" y="5" text-anchor="end">Zm7</text></g>
<g id="chr-Zm8"><use href="#bZm8" stroke="#8a8a8a" stroke-width="11"/><use href="#bZm8" stroke="#ff9900" stroke-width="9.4"/><text class="cl" transform="rotate(302.5)" x="-278" y="5" text-anchor="end">Zm8</text></g>
<g id="chr-Zm9"><use href="#bZm9" stroke="#8a8a8a" stroke-width="11"/><use href="#bZm9" stroke="#ffcc00" stroke-width="9.4"/><text class="cl" transform="rotate(324.3)" x="-278" y="5" text-anchor="end">Zm9</text></g>
<g id="chr-Zm10"><use href="#bZm10" stroke="#8a8a8a" stroke-width="11"/><use href="#bZm10" stroke="#ffff00" stroke-width="9.4"/><text class="cl" transform="rotate(344)" x="-278" y="5" text-anchor="end">Zm10</text></g>
</g>
</svg>
